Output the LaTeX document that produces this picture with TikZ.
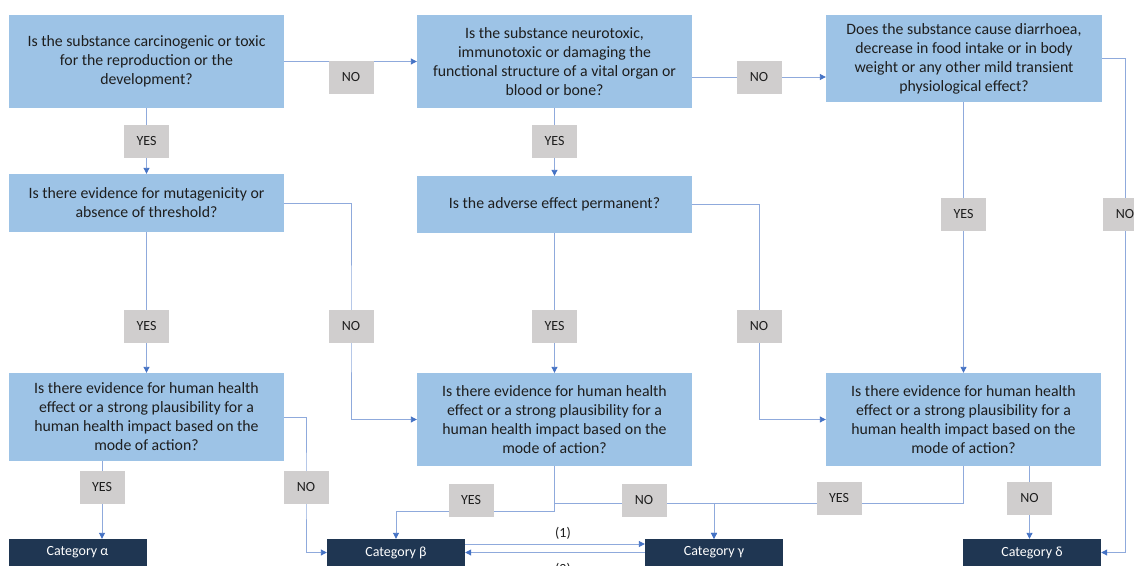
\documentclass[tikz,border=0pt]{standalone}
\usepackage{fontspec}
\setmainfont{Carlito}
\usetikzlibrary{arrows.meta,calc}

\definecolor{qfill}{HTML}{9DC3E6}
\definecolor{qtext}{HTML}{1E1E1E}
\definecolor{lblgray}{HTML}{D0CECE}
\definecolor{catnavy}{HTML}{1F3652}
\definecolor{linkblue}{HTML}{8FAADC}
\definecolor{tipblue}{HTML}{4472C4}

\newcommand\qfont{\fontsize{15.8}{19}\selectfont}
\newcommand\lblfont{\fontsize{14}{16}\selectfont}
\newcommand\catfont{\fontsize{14}{16}\selectfont}

\pgfdeclarelayer{bg}
\pgfsetlayers{bg,main}

\tikzset{
  question/.style={fill=qfill, minimum width=275pt, minimum height=#1,
    inner sep=0pt, align=center, font=\qfont, text=qtext},
  answer/.style={fill=lblgray, minimum width=45pt, minimum height=33pt,
    inner sep=0pt, font=\lblfont, text=qtext},
  category/.style={fill=catnavy, minimum width=138pt, minimum height=27pt,
    inner sep=0pt, text=white, font=\catfont},
  flow/.style={draw=linkblue, line width=0.9pt,
    -{Triangle[length=6pt,width=6pt,color=tipblue]}},
  note/.style={inner sep=0pt, font=\lblfont, text=qtext},
}

\begin{document}
\begin{tikzpicture}[x=1pt,y=-1pt]
\useasboundingbox (0,0) rectangle (1134,565);
\clip (0,0) rectangle (1134,565);

% question boxes
\node[question=93pt] (A) at (146.5,61.5) {Is the substance carcinogenic or toxic\\for the reproduction or the\\development?};
\node[question=93pt] (B) at (554.5,61.5) {Is the substance neurotoxic,\\immunotoxic or damaging the\\functional structure of a vital organ or\\blood or bone?};
\node[question=87pt, minimum width=276pt] (C) at (964,58.5) {Does the substance cause diarrhoea,\\decrease in food intake or in body\\weight or any other mild transient\\physiological effect?};
\node[question=58pt] (D) at (146.5,203) {Is there evidence for mutagenicity or\\absence of threshold?};
\node[question=57pt] (E) at (554.5,204.5) {Is the adverse effect permanent?};
\node[question=88pt] (F) at (146.5,417) {Is there evidence for human health\\effect or a strong plausibility for a\\human health impact based on the\\mode of action?};
\node[question=93pt] (G) at (554.5,419.5) {Is there evidence for human health\\effect or a strong plausibility for a\\human health impact based on the\\mode of action?};
\node[question=93pt] (H) at (963.5,419.5) {Is there evidence for human health\\effect or a strong plausibility for a\\human health impact based on the\\mode of action?};

% outcome categories
\node[category] (ca) at (77.5,552.5) {Category α};
\node[category] (cb) at (396,552.5) {Category β};
\node[category] (cg) at (714,552.5) {Category γ};
\node[category] (cd) at (1032,552.5) {Category δ};

% answer tags
\node[answer] (nAB) at (351,77) {NO};
\node[answer] (nBC) at (759,77) {NO};
\node[answer] (yAD) at (146.5,141) {YES};
\node[answer] (yBE) at (554.5,141) {YES};
\node[answer] (yCH) at (963.5,214) {YES};
\node[answer] (nCd) at (1125,214) {NO};
\node[answer] (yDF) at (146.5,326) {YES};
\node[answer] (nDG) at (351,326) {NO};
\node[answer] (yEG) at (554.5,326) {YES};
\node[answer] (nEH) at (759,326) {NO};
\node[answer] (yFa) at (102,487) {YES};
\node[answer] (nFb) at (306,487) {NO};
\node[answer] (yGb) at (471,500) {YES};
\node[answer] (nGg) at (644,500) {NO};
\node[answer] (yHg) at (839,498) {YES};
\node[answer] (nHd) at (1029.5,498) {NO};

\node[note] (t1) at (563,533) {(1)};
\node[note] (t2) at (563,569) {(2)};

% junction points
\coordinate (gb) at (554.5,511);
\coordinate (gg) at (554.5,503);
\coordinate (hg) at (963.5,503);
\coordinate (up) at (0,544);

\begin{pgfonlayer}{bg}
\draw[flow] (A.east) -- (B.west);
\draw[flow] (B.east |- nBC) -- (C.west |- nBC);
\draw[flow] (A.south) -- (D.north);
\draw[flow] (B.south) -- (E.north);
\draw[flow] (C.south -| H.north) -- (H.north);
\draw[flow] (C.east) -| (nCd.center) |- (cd.east);
\draw[flow] (D.south) -- (F.north);
\draw[flow] (D.east) -| (nDG.center) |- (G.west);
\draw[flow] (E.south) -- (G.north);
\draw[flow] (E.east) -| (nEH.center) |- (H.west);
\draw[flow] (F.south -| yFa) -- (ca.north -| yFa);
\draw[flow] (F.east) -| (nFb.center) |- (cb.west);
\draw[flow] (G.south) -- (gb) -| (cb.north);
\draw[flow] (gg) -| (cg.north);
\draw[flow] (H.south -| hg) -- (hg) -| (cg.north);
\draw[flow] (H.south -| nHd) -- (cd.north -| nHd);
\draw[flow] (cb.east |- up) -- (cg.west |- up);
\draw[flow] (cg.west) -- (cb.east);
\end{pgfonlayer}
\end{tikzpicture}
\end{document}
